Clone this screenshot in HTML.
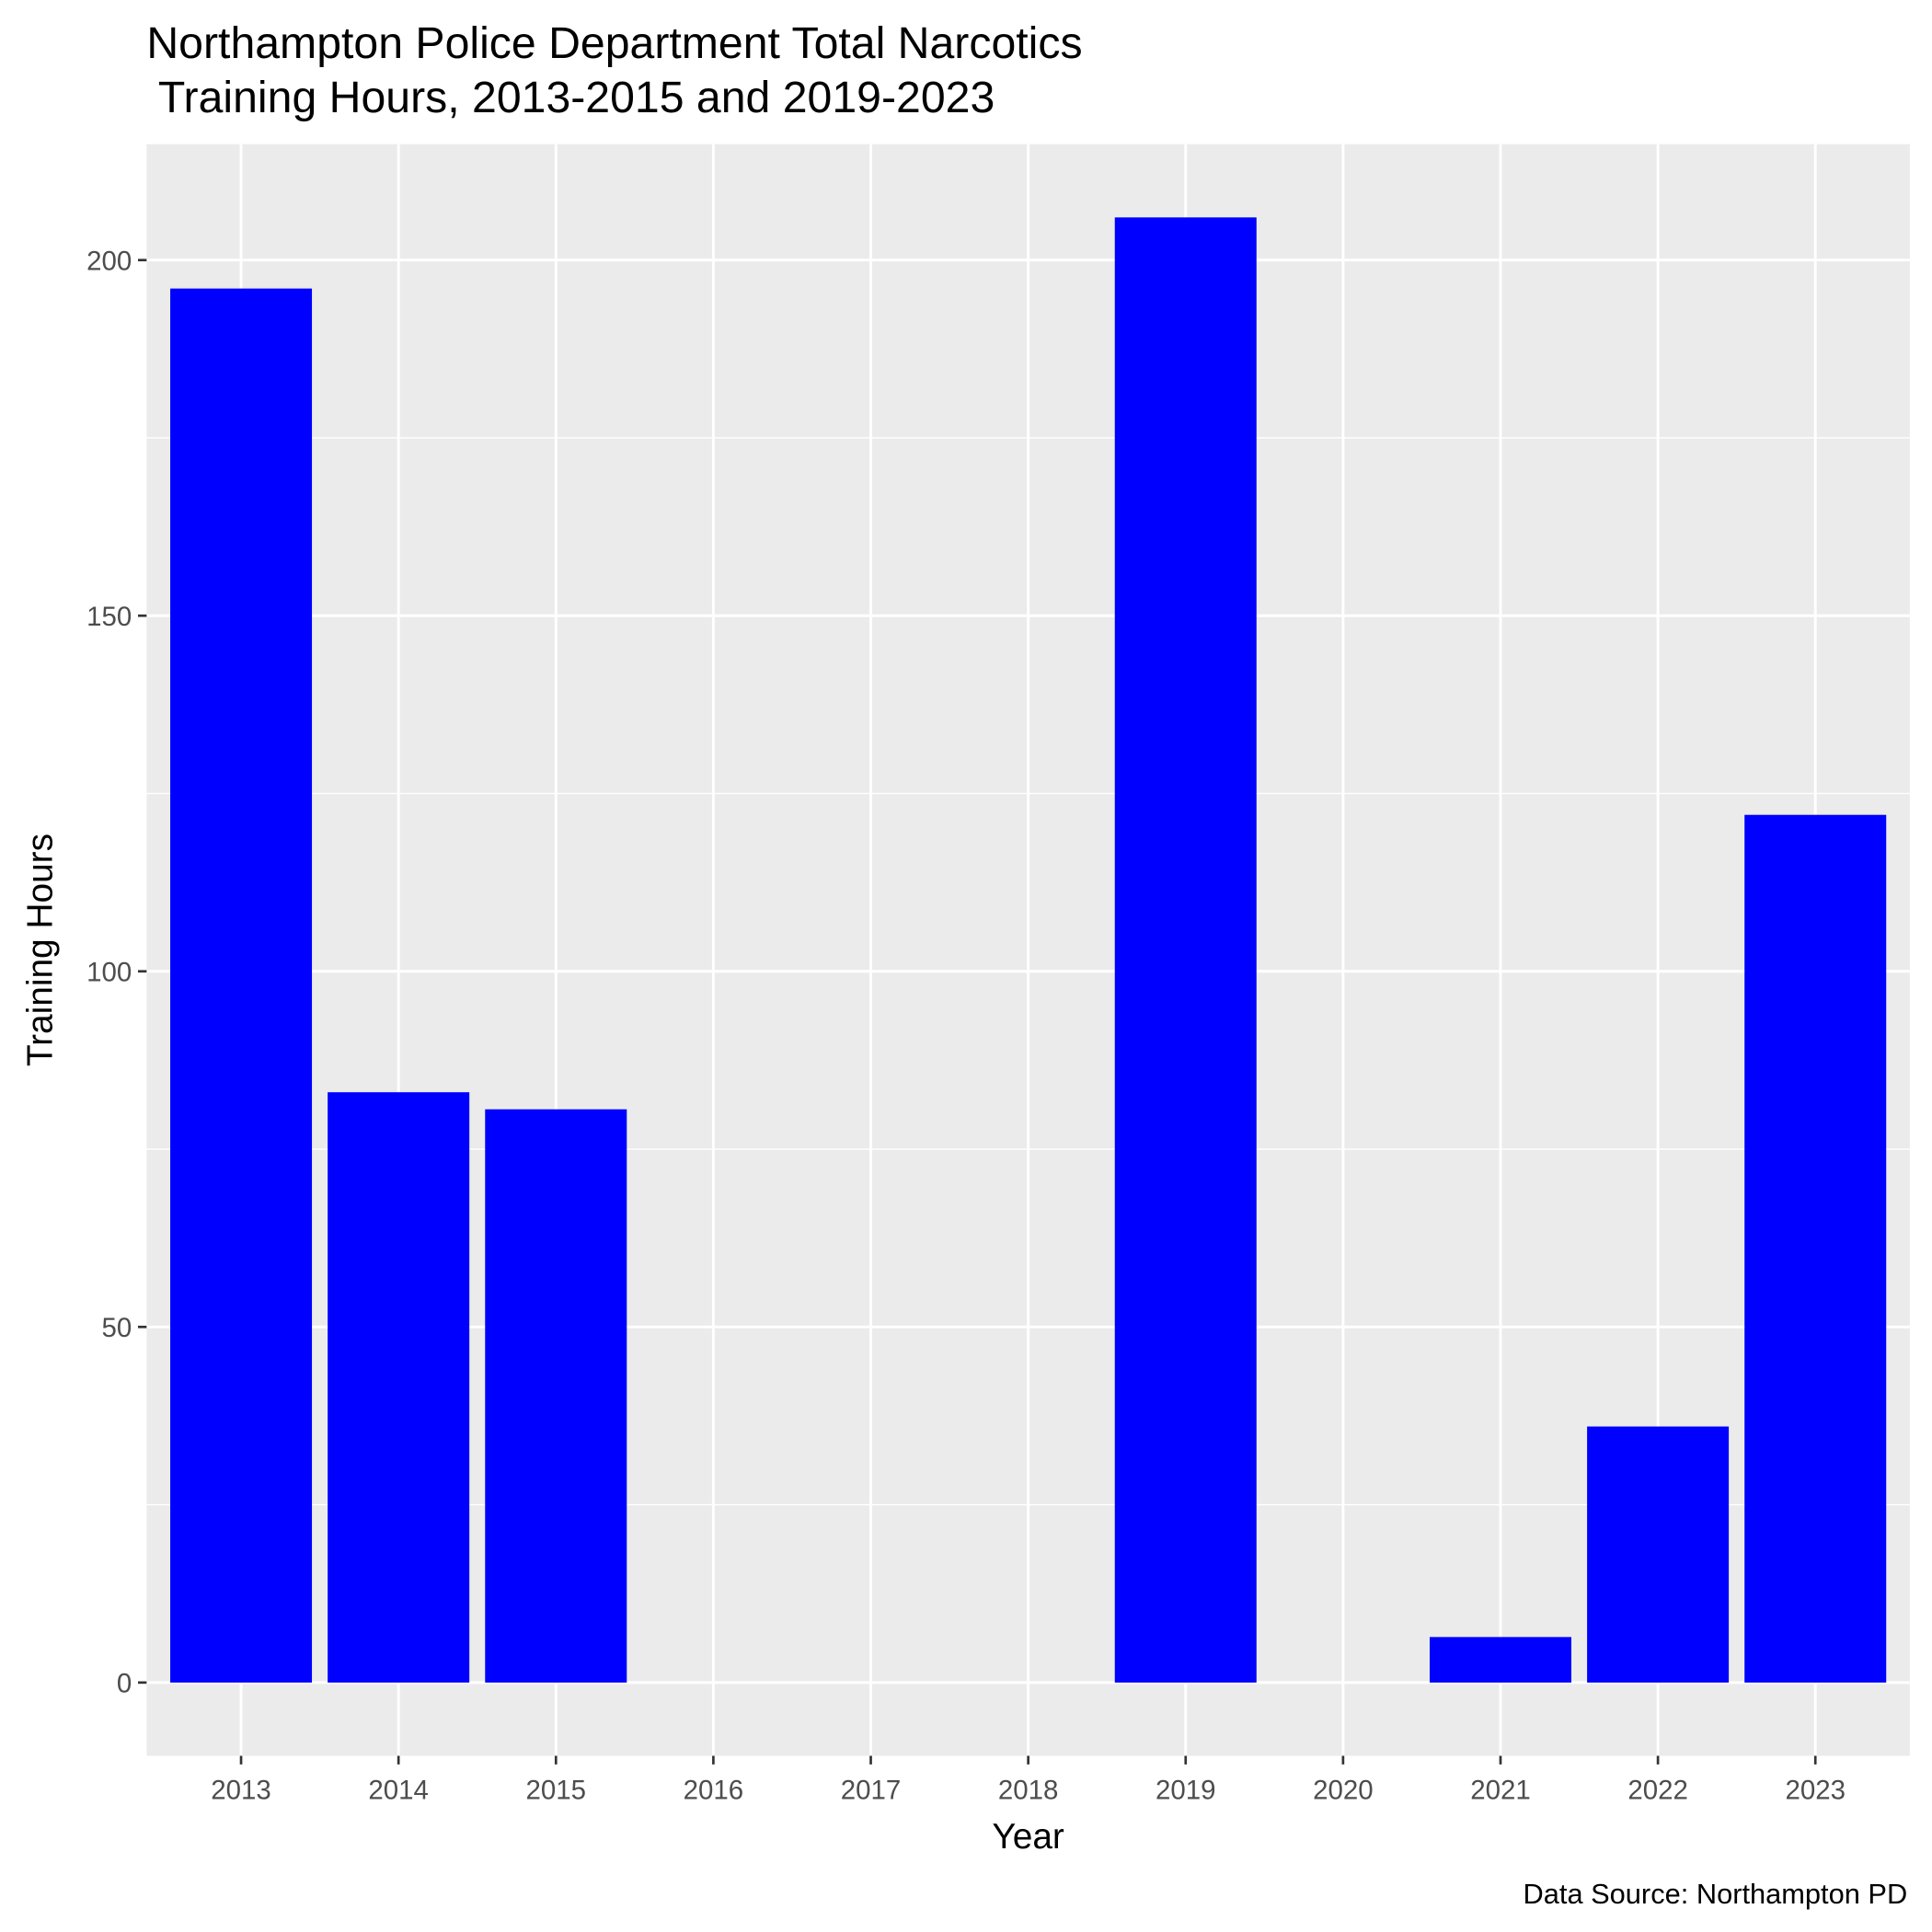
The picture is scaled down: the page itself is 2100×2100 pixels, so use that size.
<!DOCTYPE html>
<html><head><meta charset="utf-8"><style>
html,body{margin:0;padding:0;background:#fff}
svg{display:block;font-family:"Liberation Sans",Arial,sans-serif}
</style></head><body>
<svg id="chart" width="2100" height="2100" viewBox="0 0 1568 1568" xmlns="http://www.w3.org/2000/svg">
<rect width="1568" height="1568" fill="#fff"/>
<text x="119" y="47" font-size="36" fill="#000">Northampton Police Department Total Narcotics</text>
<text x="119" y="91" font-size="36" fill="#000" xml:space="preserve"> Training Hours, 2013-2015 and 2019-2023</text>
<rect x="119" y="117" width="1431" height="1308" fill="#ebebeb"/>
<g id="grid"></g>
<g id="bars"></g>
<g id="axes"></g>
<text x="834.5" y="1500" font-size="29" text-anchor="middle" fill="#000">Year</text>
<text transform="translate(42,771) rotate(-90)" font-size="29" text-anchor="middle" fill="#000">Training Hours</text>
<text x="1548" y="1545" font-size="23" text-anchor="end" fill="#000">Data Source: Northampton PD</text>
</svg>
<script>
const categories = ["2013","2014","2015","2016","2017","2018","2019","2020","2021","2022","2023"];
const values = [196, 83, 80.6, 0, 0, 0, 206, 0, 6.4, 36, 122];
const yTicks = [0, 50, 100, 150, 200];
const yMinor = [25, 75, 125, 175];

const NS = "http://www.w3.org/2000/svg";
const px0 = 119, px1 = 1550, py0 = 117, py1 = 1425;
const yMin = -10.3, yMax = 216.3;
const y = v => py1 - (v - yMin) / (yMax - yMin) * (py1 - py0);
const n = categories.length;
const step = (px1 - px0) / (n + 0.2);
const x = i => px0 + step * (0.6 + i);
const bw = step * 0.9;

function mk(tag, attrs, parent) {
  const e = document.createElementNS(NS, tag);
  for (const k in attrs) e.setAttribute(k, attrs[k]);
  parent.appendChild(e);
  return e;
}
const grid = document.getElementById("grid");
const bars = document.getElementById("bars");
const axes = document.getElementById("axes");

yMinor.forEach(v => {
  const l = mk("line", {x1: px0, x2: px1, y1: y(v), y2: y(v), stroke: "#fff", "stroke-width": 1}, grid);
  
  
});
yTicks.forEach(v => {
  const l = mk("line", {x1: px0, x2: px1, y1: y(v), y2: y(v), stroke: "#fff", "stroke-width": 2.2}, grid);
  
  
  const t = mk("line", {x1: px0 - 7, x2: px0, y1: y(v), y2: y(v), stroke: "#333", "stroke-width": 2}, axes);
  
  
  const tx = mk("text", {x: px0 - 12, y: y(v) + 8, "font-size": 22, "text-anchor": "end", fill: "#4d4d4d"}, axes);
  tx.textContent = v;
  
  
});
categories.forEach((c, i) => {
  const l = mk("line", {x1: x(i), x2: x(i), y1: py0, y2: py1, stroke: "#fff", "stroke-width": 2.2}, grid);
  
  
  const t = mk("line", {x1: x(i), x2: x(i), y1: py1, y2: py1 + 7, stroke: "#333", "stroke-width": 2}, axes);
  
  
  const tx = mk("text", {x: x(i), y: py1 + 35, "font-size": 22, "text-anchor": "middle", fill: "#4d4d4d"}, axes);
  tx.textContent = c;
  
  
  if (values[i] > 0) {
    const b = mk("rect", {x: x(i) - bw / 2, y: y(values[i]), width: bw, height: y(0) - y(values[i]), fill: "#0000ff"}, bars);
    
    
  }
});
</script>
</body></html>
